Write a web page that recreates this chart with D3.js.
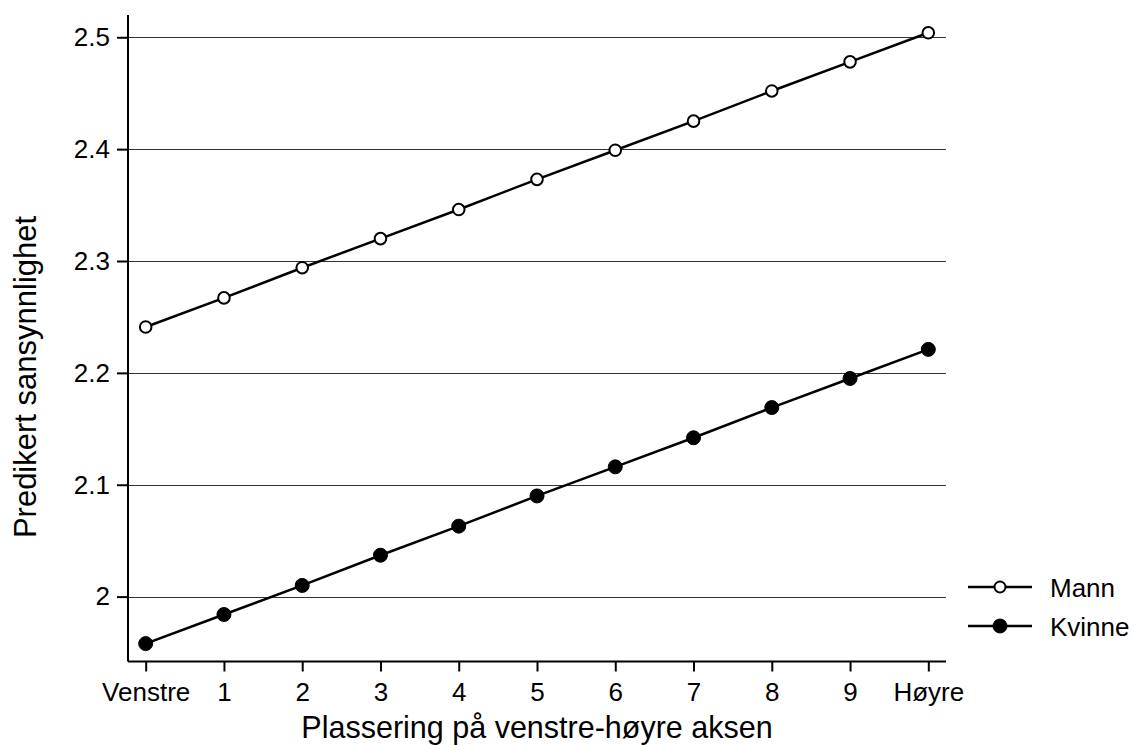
<!DOCTYPE html>
<html lang="no">
<head>
<meta charset="utf-8">
<title>Predikert sansynnlighet</title>
<script src="https://d3js.org/d3.v7.min.js"></script>
<style>
  body { margin: 0; background: #fff; }
  svg { display: block; font-family: Arial, "Liberation Sans", sans-serif; }
  .tick text { font-size: 26px; fill: #000; }
</style>
</head>
<body>
<svg width="1134" height="745"></svg>
<script>
// data
const xLabels = ["Venstre", "1", "2", "3", "4", "5", "6", "7", "8", "9", "Høyre"];
const mann   = [2.241, 2.267, 2.294, 2.320, 2.346, 2.373, 2.399, 2.425, 2.452, 2.478, 2.504];
const kvinne = [1.958, 1.984, 2.010, 2.037, 2.063, 2.090, 2.116, 2.142, 2.169, 2.195, 2.221];
const yTicks = [2.0, 2.1, 2.2, 2.3, 2.4, 2.5];
const seriesNames = ["Mann", "Kvinne"];

const svg = d3.select("svg");
const plotLeft = 128, plotRight = 946, plotTop = 15, plotBottom = 661.5;

const x = d3.scaleLinear().domain([-0.226, 10.226]).range([plotLeft, plotRight]);
const y = d3.scaleLinear().domain([1.942, 2.5199]).range([plotBottom, plotTop]);

// gridlines
svg.append("g").selectAll("line")
  .data(yTicks)
  .join("line")
  .attr("x1", plotLeft).attr("x2", plotRight)
  .attr("y1", d => Math.round(y(d)) + 0.5).attr("y2", d => Math.round(y(d)) + 0.5)
  .attr("stroke", "#333").attr("stroke-width", 1);

// y axis
const yAxis = svg.append("g")
  .attr("transform", `translate(${plotLeft},0)`)
  .call(d3.axisLeft(y).tickValues(yTicks).tickSize(11).tickPadding(7)
        .tickFormat(d => d === 2 ? "2" : d3.format(".1f")(d)));
yAxis.select(".domain").attr("d", `M0,${plotTop}V${plotBottom}`).attr("stroke-width", 2);
yAxis.selectAll(".tick line").attr("stroke-width", 2);

// x axis
const xAxis = svg.append("g")
  .attr("transform", `translate(0,${plotBottom})`)
  .call(d3.axisBottom(x).tickValues(d3.range(11)).tickSize(10).tickPadding(11)
        .tickFormat(i => xLabels[i]));
xAxis.select(".domain").attr("d", `M${plotLeft},0H${plotRight}`).attr("stroke-width", 2);
xAxis.selectAll(".tick line").attr("stroke-width", 2);

// lines and markers
const line = d3.line().x((d, i) => x(i)).y(d => y(d));
[mann, kvinne].forEach((vals, s) => {
  svg.append("path")
    .attr("d", line(vals))
    .attr("fill", "none").attr("stroke", "#000").attr("stroke-width", 2.5);
  svg.append("g").selectAll("circle")
    .data(vals)
    .join("circle")
    .attr("cx", (d, i) => x(i)).attr("cy", d => y(d))
    .attr("r", s === 0 ? 5.8 : 7)
    .attr("fill", s === 0 ? "#fff" : "#000")
    .attr("stroke", "#000").attr("stroke-width", s === 0 ? 2 : 1);
});

// legend
const legY = [587, 626];
seriesNames.forEach((name, s) => {
  const g = svg.append("g").attr("transform", `translate(0,${legY[s]})`);
  g.append("line").attr("x1", 968).attr("x2", 1032).attr("stroke", "#000").attr("stroke-width", 2.5);
  g.append("circle").attr("cx", 1000).attr("r", s === 0 ? 5.5 : 7)
    .attr("fill", s === 0 ? "#fff" : "#000").attr("stroke", "#000").attr("stroke-width", s === 0 ? 2 : 1);
  g.append("text").attr("x", 1050).attr("y", 10).attr("font-size", 26).text(name);
});

// axis titles
svg.append("text")
  .attr("x", (plotLeft + plotRight) / 2).attr("y", 738)
  .attr("text-anchor", "middle").attr("font-size", 30.5)
  .text("Plassering på venstre-høyre aksen");
svg.append("text")
  .attr("transform", "translate(36,377) rotate(-90)")
  .attr("text-anchor", "middle").attr("font-size", 31)
  .text("Predikert sansynnlighet");
</script>
</body>
</html>
